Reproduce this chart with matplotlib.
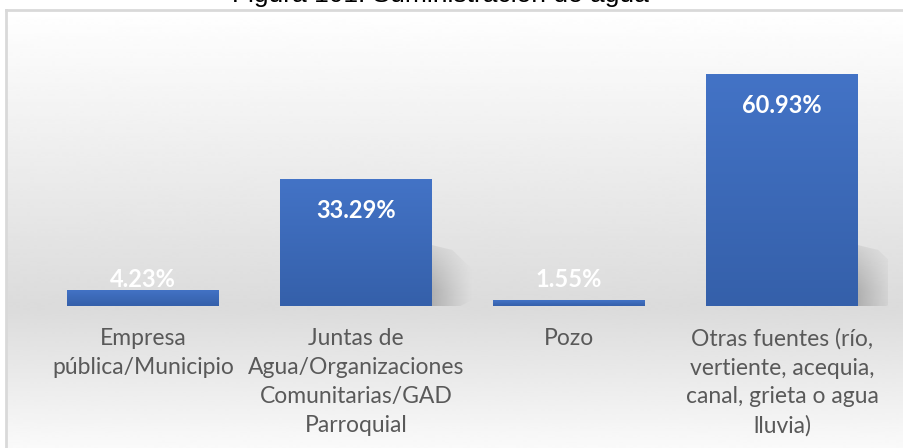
import numpy as np
import matplotlib
matplotlib.use("Agg")
import matplotlib.pyplot as plt
from matplotlib.patches import Polygon
from matplotlib.colors import LinearSegmentedColormap

# data
categories = [
    "Empresa\npública/Municipio",
    "Juntas de\nAgua/Organizaciones\nComunitarias/GAD\nParroquial",
    "Pozo",
    "Otras fuentes (río,\nvertiente, acequia,\ncanal, grieta o agua\nlluvia)",
]
values = [4.23, 33.29, 1.55, 60.93]
value_labels = ["4.23%", "33.29%", "1.55%", "60.93%"]
title = "Figura 101: Suministración de agua"

W, H = 904, 448
fig = plt.figure(figsize=(W / 100, H / 100), dpi=100)
fig.patch.set_facecolor("white")

# chart area with the grey gradient and light frame
bg = fig.add_axes([6 / W, 0, 1 - 6 / W + 0.01, 1 - 10 / H])
grad = np.concatenate([np.linspace(1.0, 0.86, 300), np.linspace(0.86, 0.98, 140)])
bg.imshow(grad[:, None], aspect="auto", cmap="gray", vmin=0, vmax=1,
          extent=[0, 1, 0, 1], origin="upper", interpolation="bicubic")
bg.set_xlim(0, 1)
bg.set_ylim(0, 1)
bg.set_xticks([])
bg.set_yticks([])
for s in ["right", "bottom"]:
    bg.spines[s].set_visible(False)
for s in ["left", "top"]:
    bg.spines[s].set_color("#d9d9d9")
    bg.spines[s].set_linewidth(2)

# main axes: baseline at y=306px, 3.807 px per percent
ppu = 232 / 60.93
ymax = 70
ax_h = ymax * ppu
ax = fig.add_axes([36.5 / W, (H - 306) / H, 852 / W, ax_h / H])
ax.patch.set_alpha(0)
for s in ax.spines.values():
    s.set_visible(False)
ax.set_yticks([])

x = np.arange(len(values))
width = 152 / 213
bars = ax.bar(x, values, width=width, color="none", zorder=3)

bar_cmap = LinearSegmentedColormap.from_list("bar", ["#3560aa", "#4373c6"])
for b, v in zip(bars, values):
    x0, x1 = b.get_x(), b.get_x() + b.get_width()
    im = ax.imshow(np.linspace(0, 1, 100)[:, None], aspect="auto", cmap=bar_cmap,
                   extent=[x0, x1, 0, v], origin="lower", zorder=3)
    im.set_clip_path(b)
    # soft shadow behind the right side
    sh = min(v * 0.5, 16)
    if sh > 3:
        sw = 0.19
        poly = Polygon([(x1, 0), (x1, sh), (x1 + sw * 0.5, sh * 0.92),
                        (x1 + sw, sh * 0.6), (x1 + sw, 0.1 * sh), (x1 + sw * 0.7, 0)],
                       closed=True, facecolor="none", edgecolor="none")
        ax.add_patch(poly)
        n = 80
        hx = np.linspace(0, 1, n)[None, :]
        vy = np.linspace(0, 1, n)[:, None]
        alpha = (1 - hx) ** 1.2 * np.clip(1.25 - vy, 0, 1) ** 0.8 * 0.55
        rgba = np.zeros((n, n, 4))
        rgba[..., :3] = 0.55
        rgba[..., 3] = alpha
        shim = ax.imshow(rgba, aspect="auto", extent=[x1, x1 + sw, 0, sh],
                         origin="lower", zorder=2, interpolation="bicubic")
        shim.set_clip_path(poly)

ax.set_xlim(-0.5, len(values) - 0.5)
ax.set_ylim(0, ymax)

font = "Lato"
for xi, v, lab in zip(x, values, value_labels):
    yc = max(v - 31 / ppu, 27 / ppu)
    ax.text(xi, yc, lab, ha="center", va="center", color="white",
            fontsize=17, fontweight="bold", family=font, zorder=5)

ax.set_xticks(x)
ax.set_xticklabels(categories, family=font, fontsize=16.5, color="#595959",
                   linespacing=1.46)
ax.tick_params(axis="x", length=0, pad=16)

fig.text(440 / W, 1 - 2 / H, title, ha="center", va="baseline",
         family="Liberation Sans", fontsize=19, color="black")

fig.savefig("out.png", dpi=100)
